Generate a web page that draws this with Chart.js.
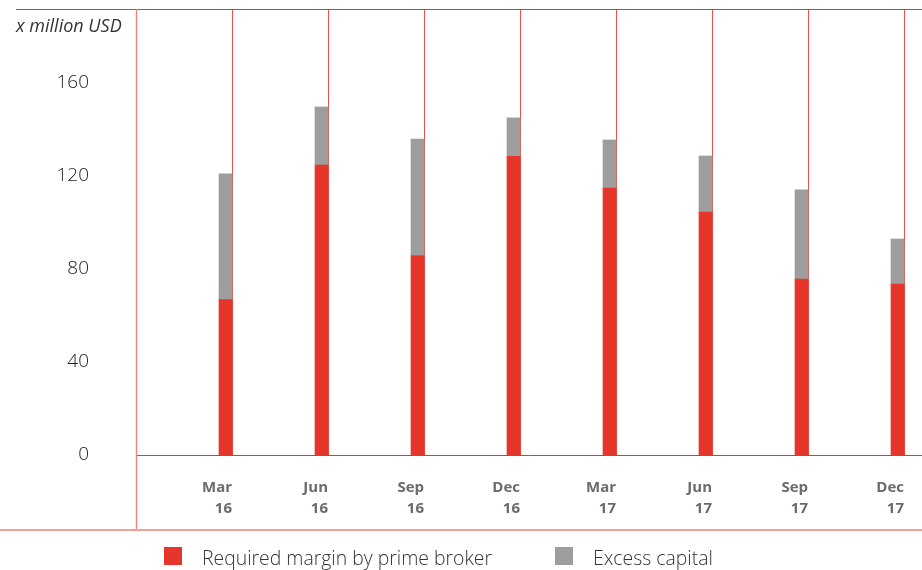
<!DOCTYPE html>
<html>
<head>
<meta charset="utf-8">
<script src="https://cdn.jsdelivr.net/npm/chart.js@4/dist/chart.umd.min.js"></script>
<style>
  html, body { margin: 0; padding: 0; background: #fff; }
  #wrap { width: 922px; height: 570px; position: relative; }
</style>
</head>
<body>
<div id="wrap"><canvas id="c" width="922" height="570"></canvas></div>
<script>
// Quarter-end labels (month, year)
const quarters = [['Mar', '16'], ['Jun', '16'], ['Sep', '16'], ['Dec', '16'],
                  ['Mar', '17'], ['Jun', '17'], ['Sep', '17'], ['Dec', '17']];
// x million USD
const requiredMargin = [66.8, 124.7, 85.8, 128.5, 114.8, 104.5, 75.7, 73.5];
const excessCapital  = [54.1, 25.0, 50.1, 16.5, 20.7, 24.1, 38.3, 19.4];
const yTicks = [0, 40, 80, 120, 160];
const seriesNames = ['Required margin by prime broker', 'Excess capital'];
const RED = '#e6352a';
const GREY = '#9d9d9d';

const asPoints = vals => vals.map((v, i) => ({ x: i + 1, y: v }));

// Bars sit against the right-hand gridline of their quarter
const rightAlignBars = {
  id: 'rightAlignBars',
  afterDatasetsUpdate(chart) {
    chart.data.datasets.forEach((ds, di) => {
      chart.getDatasetMeta(di).data.forEach(el => { el.x = el.x - el.width / 2; });
    });
  }
};

const frame = {
  id: 'frame',
  beforeDatasetsDraw(chart) {
    const { ctx, chartArea: a } = chart;
    ctx.save();
    // top rule
    ctx.strokeStyle = '#e8352a'; ctx.lineWidth = 1;
    ctx.beginPath(); ctx.moveTo(16, 9.5); ctx.lineTo(922, 9.5); ctx.stroke();
    // left rule
    ctx.strokeStyle = '#f2867f'; ctx.lineWidth = 1.5;
    ctx.beginPath(); ctx.moveTo(a.left + 0.5, 9); ctx.lineTo(a.left + 0.5, 530); ctx.stroke();
    // bottom rule
    ctx.strokeStyle = '#f4a09a'; ctx.lineWidth = 2;
    ctx.beginPath(); ctx.moveTo(0, 530); ctx.lineTo(922, 530); ctx.stroke();
    ctx.restore();
  },
  afterDraw(chart) {
    const { ctx } = chart;
    ctx.save();
    ctx.fillStyle = '#333';
    ctx.font = 'italic 400 18px "Open Sans"';
    ctx.textBaseline = 'alphabetic';
    ctx.textAlign = 'left';
    ctx.fillText('x million USD', 16, 32);
    // legend
    const items = chart.data.datasets.map(ds => ({ label: ds.label, color: ds.backgroundColor }));
    const boxX = [164, 555];
    ctx.font = '300 19.4px "Open Sans"';
    items.forEach((it, i) => {
      ctx.fillStyle = it.color;
      ctx.fillRect(boxX[i], 547, 18, 18);
      ctx.fillStyle = '#333';
      ctx.fillText(it.label, boxX[i] + 38, 565);
    });
    ctx.restore();
  }
};

new Chart(document.getElementById('c'), {
  type: 'bar',
  data: {
    datasets: [
      { label: seriesNames[0], data: asPoints(requiredMargin), backgroundColor: RED, stack: 's', barThickness: 13 },
      { label: seriesNames[1], data: asPoints(excessCapital), backgroundColor: GREY, stack: 's', barThickness: 13 }
    ]
  },
  options: {
    responsive: false,
    animation: false,
    layout: { padding: { top: 10, right: 0, bottom: 40, left: 0 } },
    plugins: { legend: { display: false }, tooltip: { enabled: false } },
    scales: {
      x: {
        type: 'linear',
        stacked: true,
        offset: false,
        min: 0,
        max: 8.1875,
        afterBuildTicks(s) { s.ticks = quarters.map((q, i) => ({ value: i + 1 })); },
        afterFit(s) { s.height = 75; s.paddingLeft = 0; s.paddingRight = 0; },
        grid: { display: true, offset: false, drawTicks: false, color: '#ee5047', lineWidth: 1 },
        border: { display: true, color: '#e8352a', width: 1 },
        ticks: {
          autoSkip: false, maxRotation: 0, align: 'end', padding: 22,
          color: '#6b6b6b',
          font: { family: 'Open Sans', size: 15, weight: 'bold', lineHeight: 1.4 },
          callback: v => quarters[v - 1] || ''
        }
      },
      y: {
        stacked: true,
        min: 0,
        max: 191.4,
        afterBuildTicks(s) { s.ticks = yTicks.map(v => ({ value: v })); },
        afterFit(s) { s.width = 136; s.paddingTop = 0; s.paddingBottom = 0; },
        grid: { display: false, drawTicks: false },
        border: { display: false },
        ticks: {
          padding: 47,
          color: '#222',
          font: { family: 'Open Sans', size: 19, weight: 300 }
        }
      }
    }
  },
  plugins: [rightAlignBars, frame]
});
</script>
</body>
</html>
